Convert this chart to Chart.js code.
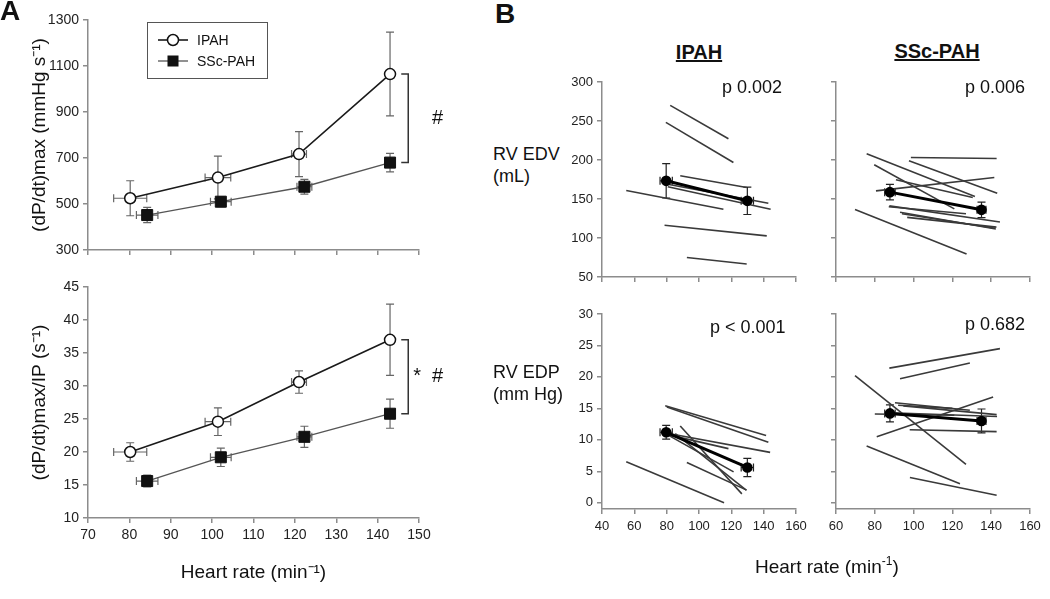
<!DOCTYPE html>
<html>
<head>
<meta charset="utf-8">
<script src="https://cdn.jsdelivr.net/npm/chart.js@4.4.1/dist/chart.umd.min.js"></script>
<style>
  html, body { margin: 0; padding: 0; background: #fff; }
  body { width: 1050px; height: 599px; position: relative; overflow: hidden;
         font-family: 'Liberation Sans', Arial, sans-serif; color: #111; }
  .cv { position: absolute; }
  .t { position: absolute; white-space: nowrap; line-height: 1; }
  .big { font-size: 28px; font-weight: bold; }
  .head { font-size: 20px; font-weight: bold; text-decoration: underline; text-align: center; width: 200px; }
  .row { font-size: 18px; line-height: 22px; }
  .pv { font-size: 18px; }
  .sup { font-size: 12px; position: relative; top: -8px; }
</style>
</head>
<body>

<canvas id="aTop" class="cv" width="460" height="270" style="left:0;top:0"></canvas>
<canvas id="aBot" class="cv" width="460" height="329" style="left:0;top:270px"></canvas>
<canvas id="bTL" class="cv" width="258" height="220" style="left:560px;top:70px"></canvas>
<canvas id="bTR" class="cv" width="230" height="220" style="left:818px;top:70px"></canvas>
<canvas id="bBL" class="cv" width="258" height="260" style="left:560px;top:300px"></canvas>
<canvas id="bBR" class="cv" width="230" height="260" style="left:818px;top:300px"></canvas>

<div class="t big" style="left:0;top:-3px">A</div>
<div class="t big" style="left:495px;top:0">B</div>
<div class="t head" style="left:599px;top:42px">IPAH</div>
<div class="t head" style="left:837px;top:41px">SSc-PAH</div>
<div class="t row" style="left:493px;top:143px">RV EDV<br>(mL)</div>
<div class="t row" style="left:493px;top:361px">RV EDP<br>(mm Hg)</div>
<div class="t pv" style="left:722px;top:78px">p 0.002</div>
<div class="t pv" style="left:965px;top:78px">p 0.006</div>
<div class="t pv" style="left:710px;top:318px">p &lt; 0.001</div>
<div class="t pv" style="left:965px;top:315px">p 0.682</div>
<div class="t" style="left:755px;top:557px;font-size:19px">Heart rate (min<span class="sup">-1</span>)</div>

<script>
/* ── Panel A: group means ± SEM vs heart rate ───────────────── */
var ipahHr        = [80.2, 101.4, 121.0, 143.0];
var ipahHrSem     = [4.0, 3.1, 1.8, 0.8];
var sscHr         = [84.3, 102.1, 122.3, 143.0];
var sscHrSem      = [2.6, 2.5, 1.8, 0.8];
var ipahDpdt      = [525, 615, 717, 1065];
var ipahDpdtSem   = [76, 93, 98, 182];
var sscDpdt       = [452, 510, 575, 680];
var sscDpdtSem    = [33, 22, 32, 40];
var ipahDpdtIp    = [20.0, 24.6, 30.6, 37.0];
var ipahDpdtIpSem = [1.4, 2.1, 1.7, 5.4];
var sscDpdtIp     = [15.6, 19.2, 22.3, 25.8];
var sscDpdtIpSem  = [0.9, 1.4, 1.6, 2.2];

/* ── Panel B: rest → exercise, mean ± SEM ───────────────────── */
var ipahMeanHr    = [79.7, 129.9];
var ipahMeanHrSem = [3.8, 3.8];
var sscMeanHr     = [87.8, 135.0];
var sscMeanHrSem  = [2.7, 2.3];
var ipahEdvMean   = [173.3, 147.6];
var ipahEdvSem    = [22, 17.5];
var sscEdvMean    = [158.8, 136.1];
var sscEdvSem     = [10, 10];
var ipahEdpMean   = [11.2, 5.6];
var ipahEdpSem    = [1.1, 1.45];
var sscEdpMean    = [14.2, 13.0];
var sscEdpSem     = [1.35, 1.9];

// individual patients: [HR rest, value rest, HR exercise, value exercise]
var ipahEdvPatients = [
  [82.2, 270, 118.2, 227.2], [79.5, 248.2, 121.3, 196.8], [88.4, 179.7, 129.5, 164.7],
  [80.7, 169, 142.9, 144.6], [80.7, 165.6, 144.3, 136.9], [55, 160.9, 115.1, 136.9],
  [78.7, 116.4, 141.9, 102.7], [92.5, 74.9, 129.5, 66.7]
];
var sscEdvPatients = [
  [75.8, 208, 131.6, 153.2], [98.6, 203.3, 142.8, 202], [97.6, 199, 143.1, 157.5],
  [79.7, 193.9, 121, 137.3], [80.6, 160.4, 141.6, 177.5], [90.9, 174.6, 130.5, 152],
  [87.5, 141.2, 144.5, 120.6], [87.2, 140, 127, 131], [93, 133, 142.4, 111.6],
  [94, 131, 142, 112.5], [96.7, 126.5, 142.7, 113.9], [69.8, 136.4, 127.3, 79.5]
];
var ipahEdpPatients = [
  [79.1, 15.4, 141.5, 10.7], [80.1, 15.2, 142.9, 9.6], [81.2, 11.0, 144.0, 8.0],
  [82.6, 10.7, 118.2, 8.6], [81.2, 10.7, 121.4, 4.9], [88.4, 12.2, 126.5, 1.4],
  [85.3, 11.0, 129.2, 2.0], [92.5, 6.4, 129.5, 2.0], [55, 6.5, 115.5, 0.0]
];
var sscEdpPatients = [
  [87.5, 21.4, 144.5, 24.5], [93, 19.7, 129, 22.2], [69.8, 20.2, 127, 6.1],
  [75.8, 9.0, 123.9, 3.0], [98.1, 4.0, 142.8, 1.2], [81, 10.5, 141, 16.8],
  [90.4, 15.9, 129, 14.7], [94.7, 15.4, 142.8, 14.0], [80, 14.1, 121, 13.9],
  [98, 11.6, 142.8, 11.3], [88, 14.3, 143, 13.7], [92, 15.5, 120, 15.0]
];

var edpTicks = [0, 5, 10, 15, 20, 25, 30];

/* ── shared bits ───────────────────────────────────────────── */
var AXIS_GREY = '#8c8c8c';
Chart.defaults.font.family = "'Liberation Sans', Arial, sans-serif";
Chart.defaults.color = '#222';
Chart.defaults.animation = false;
Chart.defaults.plugins.legend.display = false;
Chart.defaults.plugins.tooltip.enabled = false;

function axis(min, max, step, labels, fontSize, fit, isX) {
  return {
    type: 'linear', min: min, max: max,
    ticks: { stepSize: step, display: labels, font: { size: fontSize }, color: '#222', padding: 4,
             callback: function(v) { return String(v); } },
    grid: { drawOnChartArea: false, drawTicks: true, tickLength: 5, color: AXIS_GREY, lineWidth: 1.5 },
    border: { color: AXIS_GREY, width: 1.5 },
    afterFit: function(s) { if (isX) s.height = fit; else s.width = fit; }
  };
}

function pts(xs, ys) {
  return xs.map(function(x, i) { return { x: x, y: ys[i] }; });
}

// error bars, drawn under the markers
var errorBars = {
  id: 'errorBars',
  beforeDatasetsDraw: function(chart) {
    var ctx = chart.ctx, xs = chart.scales.x, ys = chart.scales.y;
    chart.data.datasets.forEach(function(ds) {
      if (!ds.errY && !ds.errX) return;
      ctx.save();
      ctx.strokeStyle = ds.errColor || '#555';
      ctx.lineWidth = 1.2;
      var cap = 4;
      ds.data.forEach(function(p, i) {
        var px = xs.getPixelForValue(p.x), py = ys.getPixelForValue(p.y);
        ctx.beginPath();
        if (ds.errY) {
          var t = ys.getPixelForValue(p.y + ds.errY[i]), b = ys.getPixelForValue(p.y - ds.errY[i]);
          ctx.moveTo(px, t); ctx.lineTo(px, b);
          ctx.moveTo(px - cap, t); ctx.lineTo(px + cap, t);
          ctx.moveTo(px - cap, b); ctx.lineTo(px + cap, b);
        }
        if (ds.errX) {
          var l = xs.getPixelForValue(p.x - ds.errX[i]), r = xs.getPixelForValue(p.x + ds.errX[i]);
          ctx.moveTo(l, py); ctx.lineTo(r, py);
          ctx.moveTo(l, py - cap); ctx.lineTo(l, py + cap);
          ctx.moveTo(r, py - cap); ctx.lineTo(r, py + cap);
        }
        ctx.stroke();
      });
      ctx.restore();
    });
  }
};

// significance bracket next to the last points of panel A
var bracket = {
  id: 'bracket',
  afterDraw: function(chart, args, o) {
    if (!o.text) return;
    var ctx = chart.ctx, xs = chart.scales.x, ys = chart.scales.y;
    var d = chart.data.datasets;
    var x = xs.getPixelForValue(o.at);
    var y1 = ys.getPixelForValue(d[0].data[d[0].data.length - 1].y);
    var y2 = ys.getPixelForValue(d[1].data[d[1].data.length - 1].y);
    ctx.save();
    ctx.strokeStyle = '#333'; ctx.lineWidth = 1.5;
    ctx.beginPath();
    ctx.moveTo(x - 7, y1); ctx.lineTo(x, y1); ctx.lineTo(x, y2); ctx.lineTo(x - 7, y2);
    ctx.stroke();
    ctx.fillStyle = '#111';
    ctx.font = "20px 'Liberation Sans', Arial, sans-serif";
    ctx.textAlign = 'right'; ctx.textBaseline = 'middle';
    ctx.fillText(o.text, x + 35, (y1 + y2) / 2);
    ctx.restore();
  }
};

// boxed legend inside panel A top
var boxLegend = {
  id: 'boxLegend',
  afterDraw: function(chart, args, o) {
    if (!o.box) return;
    var ctx = chart.ctx, b = o.box;
    ctx.save();
    ctx.strokeStyle = '#555'; ctx.lineWidth = 1;
    ctx.strokeRect(b[0] + 0.5, b[1] + 0.5, b[2], b[3]);
    chart.data.datasets.forEach(function(ds, i) {
      var y = b[1] + 18 + i * 21, mx = b[0] + 26;
      ctx.strokeStyle = ds.borderColor; ctx.lineWidth = ds.borderWidth;
      ctx.beginPath(); ctx.moveTo(b[0] + 11, y); ctx.lineTo(b[0] + 41, y); ctx.stroke();
      ctx.lineWidth = 1.5; ctx.strokeStyle = '#111';
      if (ds.pointStyle === 'rect') {
        ctx.fillStyle = '#111'; ctx.fillRect(mx - 5.5, y - 5.5, 11, 11);
      } else {
        ctx.fillStyle = '#fff';
        ctx.beginPath(); ctx.arc(mx, y, 5.5, 0, Math.PI * 2); ctx.fill(); ctx.stroke();
      }
      ctx.fillStyle = '#111';
      ctx.font = "14px 'Liberation Sans', Arial, sans-serif";
      ctx.textAlign = 'left'; ctx.textBaseline = 'middle';
      ctx.fillText(ds.label, b[0] + 50, y + 1);
    });
    ctx.restore();
  }
};

function groupSets(ipahY, ipahSem, sscY, sscSem) {
  return [
    { label: 'IPAH', data: pts(ipahHr, ipahY), errX: ipahHrSem, errY: ipahSem, showLine: true,
      borderColor: '#1a1a1a', borderWidth: 1.6, pointStyle: 'circle', pointRadius: 5.5,
      pointBackgroundColor: '#fff', pointBorderColor: '#111', pointBorderWidth: 1.5, errColor: '#666' },
    { label: 'SSc-PAH', data: pts(sscHr, sscY), errX: sscHrSem, errY: sscSem, showLine: true,
      borderColor: '#555', borderWidth: 1.3, pointStyle: 'rect', pointRadius: 7.8,
      pointBackgroundColor: '#111', pointBorderColor: '#111', pointBorderWidth: 1, errColor: '#666' }
  ];
}

/* ── Panel A top: (dP/dt)max ───────────────────────────────── */
var yTop = axis(300, 1300, 200, true, 14, 88, false);
yTop.title = { display: true, text: '(dP/dt)max (mmHg s⁻¹)', font: { size: 19 }, color: '#111', padding: { top: 28, bottom: 0 } };
new Chart(document.getElementById('aTop'), {
  type: 'scatter',
  data: { datasets: groupSets(ipahDpdt, ipahDpdtSem, sscDpdt, sscDpdtSem) },
  options: {
    responsive: false,
    layout: { padding: { top: 20, right: 41, left: 0, bottom: 0 } },
    scales: { x: axis(70, 150, 10, false, 14, 20, true), y: yTop },
    plugins: { bracket: { at: 147.4, text: '#' }, boxLegend: { box: [147, 22, 120, 56] } }
  },
  plugins: [errorBars, bracket, boxLegend]
});

/* ── Panel A bottom: (dP/dt)max/IP ─────────────────────────── */
var yBot = axis(10, 45, 5, true, 14, 88, false);
yBot.title = { display: true, text: '(dP/dt)max/IP (s⁻¹)', font: { size: 19 }, color: '#111', padding: { top: 28, bottom: 0 } };
var xBot = axis(70, 150, 10, true, 14, 81, true);
xBot.title = { display: true, text: 'Heart rate (min⁻¹)', font: { size: 19 }, color: '#111', padding: { top: 0, bottom: 15 } };
new Chart(document.getElementById('aBot'), {
  type: 'scatter',
  data: { datasets: groupSets(ipahDpdtIp, ipahDpdtIpSem, sscDpdtIp, sscDpdtIpSem) },
  options: {
    responsive: false,
    layout: { padding: { top: 17, right: 41, left: 0, bottom: 0 } },
    scales: { x: xBot, y: yBot },
    plugins: { bracket: { at: 147.4, text: '*  #' } }
  },
  plugins: [errorBars, bracket]
});

/* ── Panel B: four small rest/exercise plots ───────────────── */
function bSets(hr, hrSem, mean, sem, patients) {
  var sets = [{
    data: pts(hr, mean), errX: hrSem, errY: sem, showLine: true,
    borderColor: '#000', borderWidth: 3, pointRadius: 3.8,
    pointBackgroundColor: '#000', pointBorderColor: '#000', errColor: '#222'
  }];
  patients.forEach(function(r) {
    sets.push({ data: [{ x: r[0], y: r[1] }, { x: r[2], y: r[3] }], showLine: true,
      borderColor: '#3a3a3a', borderWidth: 1.6, pointRadius: 0 });
  });
  return sets;
}

function bChart(id, sets, x, y, padRight, padTop) {
  new Chart(document.getElementById(id), {
    type: 'scatter',
    data: { datasets: sets },
    options: {
      responsive: false,
      layout: { padding: { top: padTop, right: padRight, left: 0, bottom: 0 } },
      scales: { x: x, y: y }
    },
    plugins: [errorBars]
  });
}

function edpAxis(labels, fit) {
  var a = axis(-1, 30, 5, labels, 13, fit, false);
  a.afterBuildTicks = function(s) { s.ticks = edpTicks.map(function(v) { return { value: v }; }); };
  return a;
}

var xBL = axis(40, 160, 20, true, 13, 51, true);  xBL.ticks.padding = 5;
var xBR = axis(60, 160, 20, true, 13, 51, true);  xBR.ticks.padding = 5;

bChart('bTL', bSets(ipahMeanHr, ipahMeanHrSem, ipahEdvMean, ipahEdvSem, ipahEdvPatients),
  axis(40, 160, 20, false, 13, 13, true), axis(50, 300, 50, true, 13, 42, false), 22, 12);
bChart('bTR', bSets(sscMeanHr, sscMeanHrSem, sscEdvMean, sscEdvSem, sscEdvPatients),
  axis(60, 160, 20, false, 13, 13, true), axis(50, 300, 50, false, 13, 18, false), 18, 12);
bChart('bBL', bSets(ipahMeanHr, ipahMeanHrSem, ipahEdpMean, ipahEdpSem, ipahEdpPatients),
  xBL, edpAxis(true, 42), 22, 14);
bChart('bBR', bSets(sscMeanHr, sscMeanHrSem, sscEdpMean, sscEdpSem, sscEdpPatients),
  xBR, edpAxis(false, 18), 18, 14);
</script>
</body>
</html>
